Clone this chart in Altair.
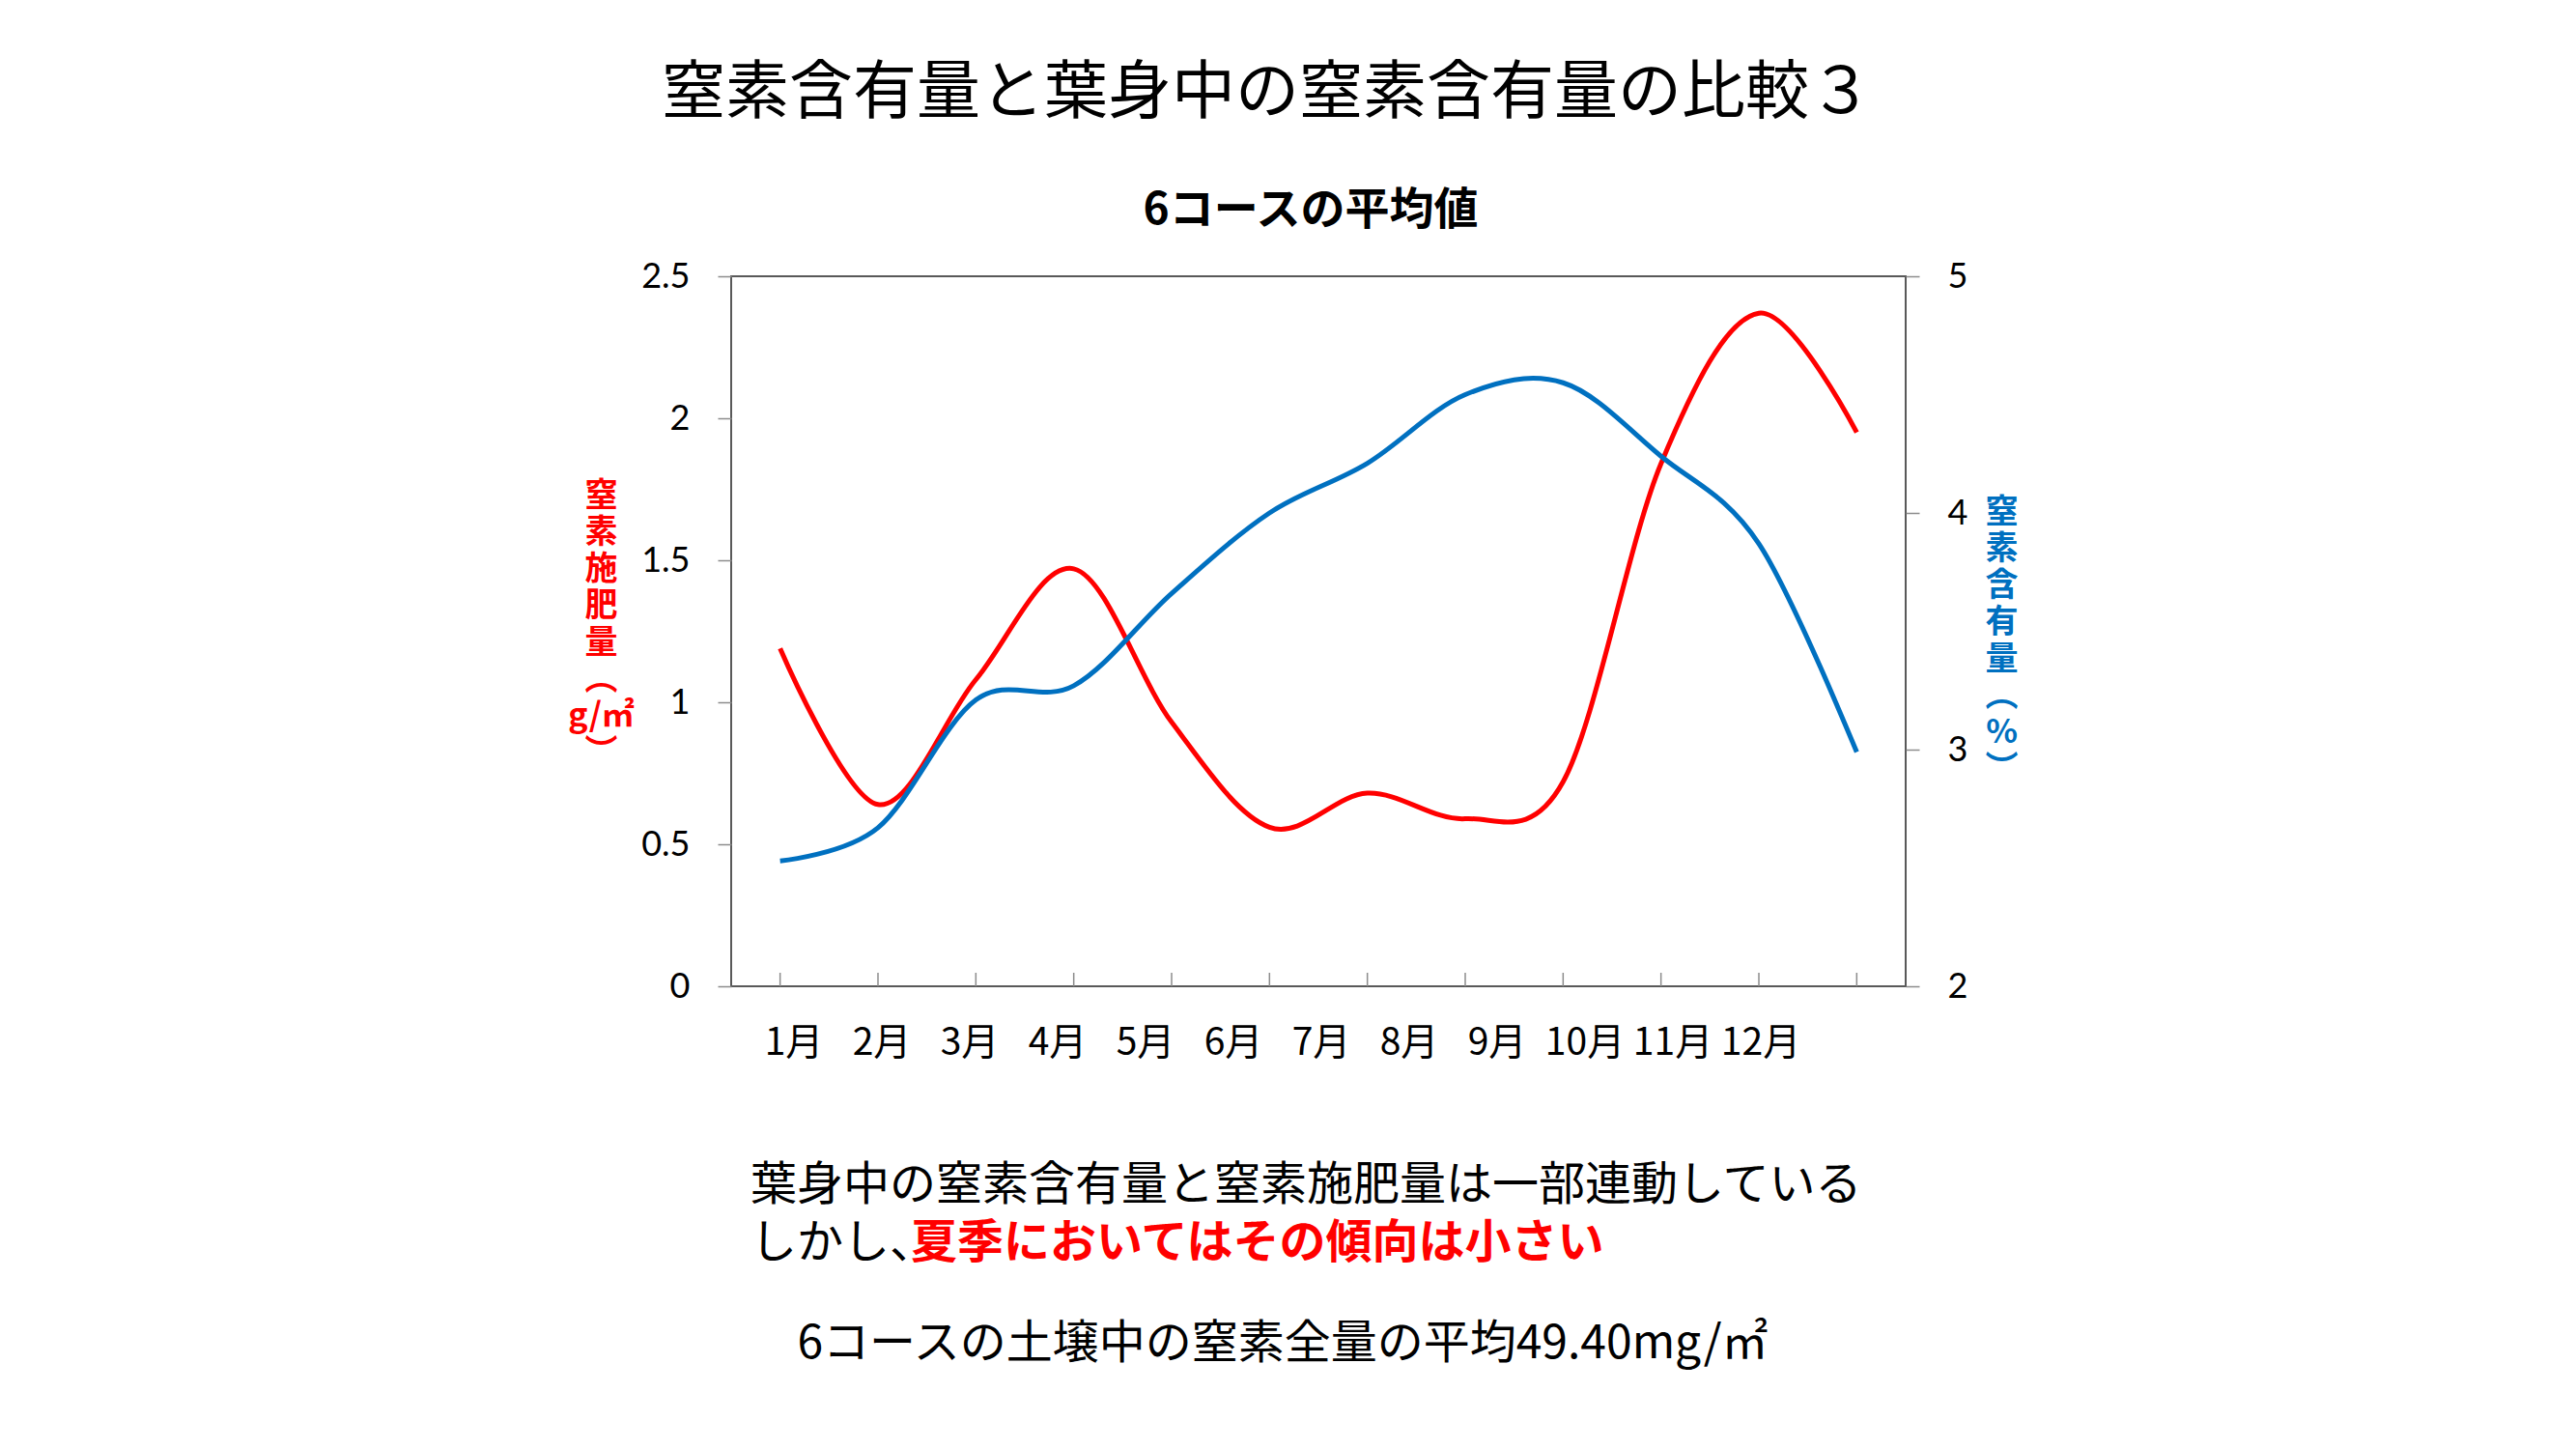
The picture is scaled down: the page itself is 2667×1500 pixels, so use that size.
import altair as alt
import pandas as pd

# ---- data ----
months = ["1月", "2月", "3月", "4月", "5月", "6月", "7月", "8月", "9月", "10月", "11月", "12月"]
fert_n = [1.19, 0.64, 1.08, 1.47, 0.93, 0.56, 0.68, 0.59, 0.72, 1.84, 2.37, 1.95]   # 窒素施肥量 (g/㎡), left axis
leaf_n = [2.53, 2.67, 3.21, 3.27, 3.66, 4.00, 4.21, 4.50, 4.55, 4.24, 3.87, 2.99]   # 窒素含有量 (%), right axis

left_ticks = [0, 0.5, 1, 1.5, 2, 2.5]
right_ticks = [2, 3, 4, 5]

main_title = "窒素含有量と葉身中の窒素含有量の比較３"
sub_title = "6コースの平均値"
left_title = ["窒", "素", "施", "肥", "量", "︵", "g/㎡", "︶"]
right_title = ["窒", "素", "含", "有", "量", "︵", "%", "︶"]
note1 = "葉身中の窒素含有量と窒素施肥量は一部連動している"
note2a = "しかし、"
note2b = "夏季においてはその傾向は小さい"
note3 = "6コースの土壌中の窒素全量の平均49.40mg/㎡"

RED = "#FF0000"
BLUE = "#0070C0"
GRAY = "#8c8c8c"
JP = "Noto Sans CJK JP"
NUM = "Lato"

W, H = 1216, 735

df = pd.DataFrame({"month": months, "fert": fert_n, "leaf": leaf_n})

x_enc = alt.X("month:O", sort=months,
              scale=alt.Scale(type="point", domain=months, padding=0.5), axis=None)

common_axis = dict(grid=False, domain=False, tickSize=14, tickColor=GRAY, tickWidth=1.5,
                   labelFont=NUM, labelFontSize=36, labelColor="#000000", labelPadding=29,
                   labelFlush=False, labelOverlap=False,
                   titleFont=JP, titleFontSize=34, titleFontWeight="bold", titleAngle=0,
                   titleAlign="center", titleBaseline="top", titleLineHeight=38)

red = alt.Chart(df).mark_line(color=RED, strokeWidth=5, interpolate="cardinal", tension=0).encode(
    x=x_enc,
    y=alt.Y("fert:Q", scale=alt.Scale(domain=[0, 2.5], nice=False, zero=False),
            axis=alt.Axis(orient="left", values=left_ticks, format="~g", title=left_title,
                          titleColor=RED, titleX=-135, titleY=210, **common_axis)),
)

blue = alt.Chart(df).mark_line(color=BLUE, strokeWidth=5, interpolate="cardinal", tension=0).encode(
    x=x_enc,
    y=alt.Y("leaf:Q", scale=alt.Scale(domain=[2, 5], nice=False, zero=False),
            axis=alt.Axis(orient="right", values=right_ticks, format="d", title=right_title,
                          titleColor=BLUE, titleX=99, titleY=227, **common_axis)),
)

ticks = alt.Chart(df).mark_rule(color=GRAY, strokeWidth=1.5).encode(
    x=x_enc, y=alt.value(H), y2=alt.value(H - 14)
)

month_labels = alt.Chart(df).mark_text(font=JP, fontSize=39, color="#000000", baseline="middle").encode(
    x=alt.X("month:O", sort=months,
            scale=alt.Scale(type="point", domain=months, range=[65, 1066], padding=0), axis=None),
    y=alt.value(794),
    text="month:N",
)


def txt(s, x, y, size, color="#000000", weight="normal", align="left"):
    return alt.Chart(pd.DataFrame({"t": [s]})).mark_text(
        font=JP, fontSize=size, color=color, fontWeight=weight, align=align, baseline="middle"
    ).encode(x=alt.value(x), y=alt.value(y), text="t:N")


texts = [
    txt(main_title, 555, -189, 66, align="center"),
    txt(sub_title, 600, -68, 46, weight="bold", align="center"),
    txt(note1, 20, 942, 48),
    txt(note2a, 20, 1002, 48),
    txt(note2b, 186, 1002, 48, color=RED, weight="bold"),
    txt(note3, 571, 1106, 48, align="center"),
]

chart = alt.layer(red, blue, ticks, month_labels, *texts).resolve_scale(
    x="independent", y="independent"
).properties(
    width=W, height=H,
    autosize=alt.AutoSizeParams(type="none"),
    padding={"left": 749, "top": 278, "right": 600, "bottom": 400},
).configure_view(stroke="#595959", strokeWidth=2)

chart.save("out.html", embed_options={"renderer": "svg", "actions": False})
